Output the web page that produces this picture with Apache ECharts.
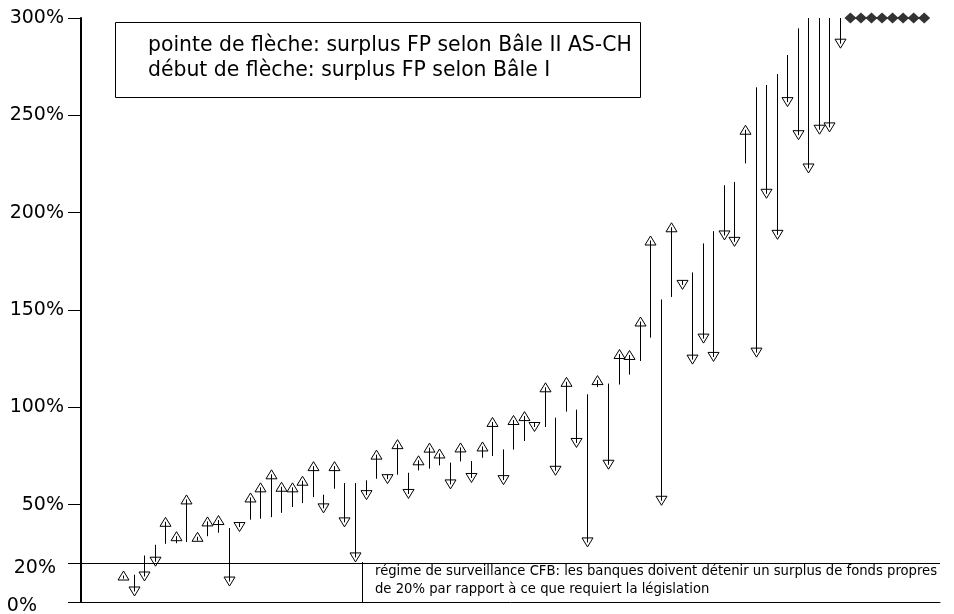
<!DOCTYPE html>
<html>
<head>
<meta charset="utf-8">
<script src="https://cdn.jsdelivr.net/npm/echarts@6/dist/echarts.min.js"></script>
<style>
  html, body { margin: 0; padding: 0; background: #fff; }
  #chart { width: 954px; height: 614px; }
</style>
</head>
<body>
<div id="chart"></div>
<script>
// surplus de fonds propres par banque (en %), une flèche par banque
// début de flèche = Bâle I, pointe de flèche = Bâle II AS-CH
// 300 = hors échelle (> 300%)
const baleI = [
  12, 14.0, 23.9, 29.4, 29.9, 30.2, 30.8, 31.5, 33.8, 35.6,
  38.0, 40.5, 42.3, 42.8, 43.6, 45.8, 48.8, 50.8, 53.9, 55.1,
  58.2, 61.1, 61.1, 62.5, 63.3, 65.5, 65.4, 66.4, 67.6, 68.5,
  70.2, 71.6, 72.2, 72.4, 74.1, 75.0, 78.4, 78.3, 82.7, 92.0,
  89.9, 94.7, 97.8, 98.8, 106.7, 110.4, 112.2, 111.7, 116.8, 123.8,
  135.8, 155.4, 156.7, 165.0, 169.3, 184.2, 190.5, 214.1, 215.8, 225.3,
  264.4, 265.6, 271.2, 281.0, 294.7, 300, 300, 300, 300
];
const baleII = [
  13.6, 5.4, 13.1, 20.7, 41.2, 33.8, 52.7, 33.5, 41.4, 42.1,
  10.5, 38.5, 53.7, 58.9, 65.6, 59.2, 58.9, 62.3, 69.8, 48.1,
  69.8, 40.9, 22.9, 54.9, 75.7, 63.1, 81.1, 55.5, 72.8, 79.3,
  76.3, 60.4, 79.4, 63.7, 79.9, 92.5, 62.6, 93.5, 95.5, 89.9,
  110.3, 67.4, 113.1, 81.7, 30.6, 114.0, 70.5, 127.4, 126.9, 144.1,
  185.7, 52.0, 192.5, 162.9, 124.5, 135.3, 125.9, 188.3, 185.0, 242.6,
  128.1, 209.7, 188.6, 256.8, 239.8, 222.7, 242.6, 243.8, 286.8
];
// banques dont les deux surplus dépassent 300% (losanges)
const aboveScale = [300, 300, 300, 300, 300, 300, 300, 300];

const yTicks = [0, 20, 50, 100, 150, 200, 250, 300];
const threshold = 20;

const legendLines = [
  'pointe de flèche: surplus FP selon Bâle II AS-CH',
  'début de flèche: surplus FP selon Bâle I'
];
const noteLines = [
  'régime de surveillance CFB: les banques doivent détenir un surplus de fonds propres',
  'de 20% par rapport à ce que requiert la législation'
];

// empty slots before the first bank on the x scale
const leadSlots = 3;
const arrows = baleI.map((s, i) => [leadSlots + i + 1, s, baleII[i]]);
const diamonds = aboveScale.map((v, i) => [leadSlots + baleI.length + 1 + i, v]);

const font = 'DejaVu Sans';
const chart = echarts.init(document.getElementById('chart'));

chart.setOption({
  animation: false,
  backgroundColor: '#fff',
  grid: { left: 81, right: 14, top: 18, bottom: 12, outerBoundsMode: 'none', containLabel: false },
  xAxis: {
    type: 'value',
    min: 0,
    max: 81.5,
    axisLine: { show: true, onZero: false, lineStyle: { color: '#000', width: 1 } },
    axisTick: { show: false },
    axisLabel: { show: false },
    splitLine: { show: false }
  },
  yAxis: {
    type: 'value',
    min: 0,
    max: 300,
    // width 2: half of it falls outside the grid clip, leaves a 1px line
    axisLine: { show: true, lineStyle: { color: '#000', width: 2 } },
    axisTick: { show: true, customValues: yTicks, length: 13, lineStyle: { color: '#000' } },
    axisLabel: {
      customValues: yTicks,
      margin: 17,
      color: '#000',
      fontFamily: font,
      fontSize: 19,
      formatter: v => v === 20 ? '{a|20%}' : v === 0 ? '{b|0%}' : v + '%',
      rich: {
        a: { fontFamily: font, fontSize: 19, color: '#000', padding: [10, 8, 0, 0] },
        b: { fontFamily: font, fontSize: 19, color: '#000', padding: [8, 27, 0, 0] }
      }
    },
    splitLine: { show: false }
  },
  series: [
    {
      type: 'custom',
      clip: true,
      data: arrows,
      renderItem(params, api) {
        const x = api.value(0);
        const p0 = api.coord([x, api.value(1)]);
        const p1 = api.coord([x, api.value(2)]);
        const px = Math.round(p1[0]) + 0.5;
        const d = api.value(2) > api.value(1) ? -1 : 1;
        const hw = 5.5, hh = 4.5;
        return {
          type: 'group',
          children: [
            {
              type: 'line',
              shape: { x1: px, y1: p0[1], x2: px, y2: p1[1] },
              style: { stroke: '#000', lineWidth: 1 }
            },
            {
              type: 'polygon',
              shape: { points: [[px - hw, p1[1] - d * hh], [px + hw, p1[1] - d * hh], [px, p1[1] + d * hh]] },
              style: { fill: 'none', stroke: '#000', lineWidth: 1 }
            }
          ]
        };
      }
    },
    {
      type: 'scatter',
      clip: false,
      data: diamonds,
      symbol: 'diamond',
      symbolSize: [12, 11],
      itemStyle: { color: '#000' },
      markLine: {
        silent: true,
        symbol: 'none',
        label: { show: false },
        lineStyle: { color: '#000', type: 'solid', width: 1 },
        data: [{ yAxis: threshold }]
      }
    }
  ],
  graphic: [
    {
      type: 'rect',
      left: 115, top: 22,
      shape: { width: 525, height: 75 },
      style: { fill: '#fff', stroke: '#000', lineWidth: 1 }
    },
    {
      type: 'text', left: 148, top: 36,
      style: { text: legendLines[0], font: '20.4px "DejaVu Sans"', fill: '#000' }
    },
    {
      type: 'text', left: 148, top: 61,
      style: { text: legendLines[1], font: '20.4px "DejaVu Sans"', fill: '#000' }
    },
    {
      type: 'line',
      shape: { x1: 362.5, y1: 562, x2: 362.5, y2: 602 },
      style: { stroke: '#000', lineWidth: 1 }
    },
    {
      type: 'text', left: 375, top: 565,
      style: { text: noteLines[0], font: '13.2px "DejaVu Sans"', fill: '#000' }
    },
    {
      type: 'text', left: 375, top: 583,
      style: { text: noteLines[1], font: '13.2px "DejaVu Sans"', fill: '#000' }
    }
  ]
});
</script>
</body>
</html>
